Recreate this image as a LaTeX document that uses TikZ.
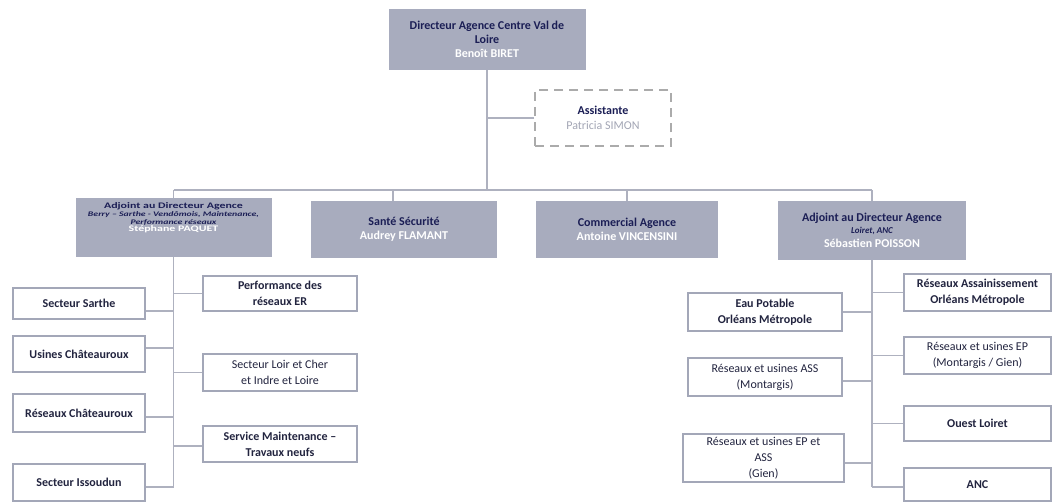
\documentclass[tikz,border=0pt]{standalone}
\usepackage{fontspec}
\setmainfont{Carlito}
\newfontfamily\widefont[FakeStretch=1.4]{Carlito}
\definecolor{boxgray}{HTML}{A8ACBE}
\definecolor{navy}{HTML}{1B1E55}
\definecolor{subborder}{HTML}{A3A7B8}
\definecolor{linegray}{HTML}{AEB1BF}
\definecolor{dashgray}{HTML}{ABABAB}
\definecolor{subtext}{HTML}{22243F}
\definecolor{asstname}{HTML}{A3A6B5}
\begin{document}
\begin{tikzpicture}[x=1pt,y=-1pt,
  mainbox/.style={fill=boxgray, draw=none, align=center, inner sep=0pt,
    font=\fontsize{12}{14}\selectfont\bfseries, text=navy},
  subbox/.style={draw=subborder, line width=2.6pt, fill=white, align=center, inner sep=0pt,
    font=\fontsize{12}{16}\selectfont\bfseries, text=subtext},
  subreg/.style={subbox, font=\fontsize{12}{16}\selectfont},
  dashbox/.style={draw=dashgray, line width=2pt, dash pattern=on 9pt off 6pt, fill=white,
    align=center, inner sep=0pt, font=\fontsize{12}{15}\selectfont\bfseries, text=navy},
  conn/.style={draw=linegray, line width=1.1pt},
  wname/.style={text=white}]
\useasboundingbox (0,0) rectangle (1053,503);
\fill[white] (0,0) rectangle (1053,503);

% top level
\node[mainbox, minimum width=197pt, minimum height=61pt] (dir) at (487,39.5)
  {Directeur Agence Centre Val de\\Loire\\\textcolor{white}{Benoît BIRET}};
\node[dashbox, minimum width=136pt, minimum height=56pt] (asst) at (603,118)
  {Assistante\\\textcolor{asstname}{\mdseries Patricia SIMON}};

\node[mainbox, minimum width=196pt, minimum height=59pt] (adjL) at (173.5,227.5) {};
\node[align=center, inner sep=0pt, text=navy, anchor=north,
  font=\widefont\fontsize{8.5}{7.6}\selectfont\bfseries] (adjLtext) at ([yshift=-5pt]adjL.north)
  {Adjoint au Directeur Agence\\
   {\fontsize{7}{7.6}\selectfont\itshape Berry – Sarthe - Vendômois, Maintenance,}\\
   {\fontsize{7}{7.6}\selectfont\itshape Performance réseaux}\\
   \textcolor{white}{Stéphane PAQUET}};
\node[mainbox, minimum width=186pt, minimum height=57pt] (sante) at (404,229.5)
  {Santé Sécurité\\\textcolor{white}{Audrey FLAMANT}};
\node[mainbox, minimum width=182pt, minimum height=57pt] (comm) at (627,229.5)
  {Commercial Agence\\\textcolor{white}{Antoine VINCENSINI}};
\node[mainbox, minimum width=188pt, minimum height=59pt] (adjR) at (872,230.5)
  {Adjoint au Directeur Agence\\[-2pt]
   {\fontsize{9}{11}\selectfont\itshape Loiret, ANC}\\
   \textcolor{white}{Sébastien POISSON}};

% connectors top level
\coordinate (bar) at (dir.south |- 0,190);
\draw[conn] (dir.south) -- (bar);
\draw[conn] (asst.west) -- (asst.west -| dir.south);
\draw[conn] (adjL.north |- bar) -- (adjR.north |- bar);
\draw[conn] (adjL.north) -- (adjL.north |- bar);
\draw[conn] ([xshift=-11pt]sante.north) -- ([xshift=-11pt]sante.north |- bar);
\draw[conn] (comm.north) -- (comm.north |- bar);
\draw[conn] (adjR.north) -- (adjR.north |- bar);

% left subtree
\node[subbox, minimum width=132pt, minimum height=31pt] (sarthe) at (79,303.5) {Secteur Sarthe};
\node[subbox, minimum width=132pt, minimum height=36pt] (usines) at (79,354) {Usines Châteauroux};
\node[subbox, minimum width=132pt, minimum height=38pt] (resch) at (79,413) {Réseaux Châteauroux};
\node[subbox, minimum width=132pt, minimum height=37pt] (issoudun) at (79,482.5) {Secteur Issoudun};
\node[subbox, minimum width=154pt, minimum height=35pt] (perf) at (280,293.5) {Performance des\\réseaux ER};
\node[subreg, minimum width=154pt, minimum height=37pt] (loir) at (280,372.5) {Secteur Loir et Cher\\et Indre et Loire};
\node[subbox, minimum width=154pt, minimum height=36pt] (serv) at (280,444) {Service Maintenance –\\Travaux neufs};

\coordinate (lend) at (adjL.south |- 0,487);
\draw[conn] (adjL.south) -- (lend);
\draw[conn] ([yshift=-7.5pt]sarthe.east) -- ([yshift=-7.5pt]sarthe.east -| adjL.south);
\draw[conn] ([yshift=6pt]usines.east) -- ([yshift=6pt]usines.east -| adjL.south);
\draw[conn] ([yshift=-4pt]resch.east) -- ([yshift=-4pt]resch.east -| adjL.south);
\draw[conn] ([yshift=-4.5pt]issoudun.east) -- (lend);
\draw[conn] (perf.west) -- (perf.west -| adjL.south);
\draw[conn] (loir.west) -- (loir.west -| adjL.south);
\draw[conn] ([yshift=-2pt]serv.west) -- ([yshift=-2pt]serv.west -| adjL.south);

% right subtree
\node[subbox, minimum width=154pt, minimum height=38pt] (eau) at (765,312) {Eau Potable\\Orléans Métropole};
\node[subreg, minimum width=154pt, minimum height=38pt] (ass) at (765,377) {Réseaux et usines ASS\\(Montargis)};
\node[subreg, minimum width=161pt, minimum height=48pt] (gien) at (763.5,458) {Réseaux et usines EP et\\ASS\\(Gien)};
\node[subbox, minimum width=147pt, minimum height=37pt] (ra) at (977.5,292.5) {Réseaux Assainissement\\Orléans Métropole};
\node[subreg, minimum width=147pt, minimum height=37pt] (ep) at (977.5,355.5) {Réseaux et usines EP\\(Montargis / Gien)};
\node[subbox, minimum width=147pt, minimum height=35pt] (ouest) at (977.5,423.5) {Ouest Loiret};
\node[subbox, minimum width=147pt, minimum height=33pt] (anc) at (977.5,484.5) {ANC};

\coordinate (rend) at (adjR.south |- 0,487);
\draw[conn] (adjR.south) -- (rend);
\draw[conn] (eau.east) -- (eau.east -| adjR.south);
\draw[conn] ([yshift=-4pt]ass.east) -- ([yshift=-4pt]ass.east -| adjR.south);
\draw[conn] ([yshift=-5pt]gien.east) -- ([yshift=-5pt]gien.east -| adjR.south);
\draw[conn] (ra.west) -- (ra.west -| adjR.south);
\draw[conn] (ep.west) -- (ep.west -| adjR.south);
\draw[conn] (ouest.west) -- (ouest.west -| adjR.south);
\draw[conn] ([yshift=-2.5pt]anc.west) -- (rend);
\end{tikzpicture}
\end{document}
